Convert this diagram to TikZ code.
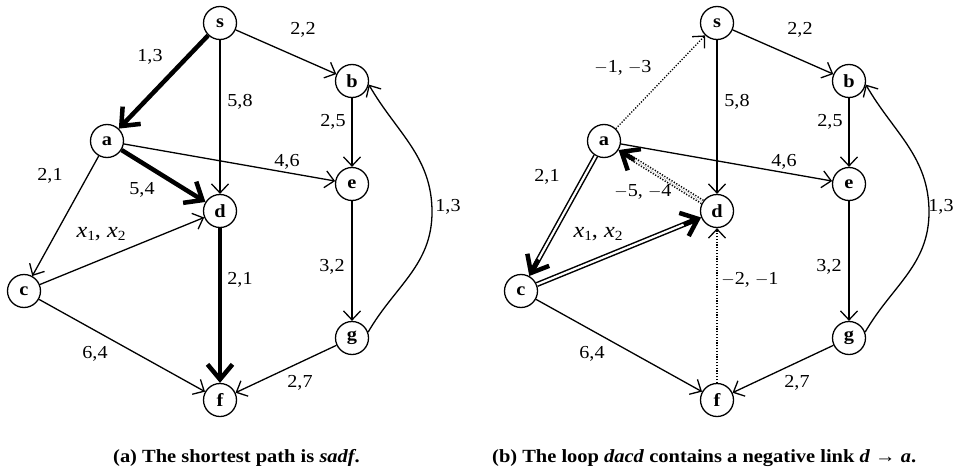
\documentclass[tikz,border=0pt]{standalone}
\usepackage{fontspec}
\setmainfont{Liberation Serif}[FakeStretch=1.1]
\usetikzlibrary{arrows.meta,calc}
\tikzset{
 vtx/.style={circle, draw, line width=1.3pt, minimum size=33pt, inner sep=0pt, fill=white, font=\fontsize{18.5}{18}\selectfont\bfseries},
 lbl/.style={inner sep=0pt, font=\fontsize{18.3}{20}\selectfont},
 xlbl/.style={inner sep=0pt, font=\fontsize{22}{24}\selectfont},
 captxt/.style={inner sep=0pt, anchor=base west, font=\fontsize{18.6}{20}\selectfont\bfseries},
 edge/.style={line width=1.3pt, -{Straight Barb[length=9pt,width=17pt]}},
 boldedge/.style={line width=4.5pt, -{Straight Barb[length=15pt,width=25pt]}},
 dotedge/.style={edge, dash pattern=on 1.2pt off 1.6pt},
 dblline/.style={double, line width=1.5pt, double distance=2.2pt, shorten >=5pt},
 boldtip/.style={line width=4.5pt, -{Straight Barb[length=15pt,width=25pt]}},
}
\newcommand{\xx}[1]{\textit{x}\raisebox{-0.35ex}{\fontsize{14}{14}\selectfont #1}}
\begin{document}
\begin{tikzpicture}[x=1pt,y=1pt]
\useasboundingbox (0,0) rectangle (955,475);
% ---------- (a) ----------
\node[vtx] (s) at (220,452) {s};
\node[vtx] (a) at (107,334) {a};
\node[vtx] (b) at (352,394) {b};
\node[vtx] (e) at (352,291) {e};
\node[vtx] (d) at (220,264) {d};
\node[vtx] (c) at (24,184) {c};
\node[vtx] (g) at (352,137) {g};
\node[vtx] (f) at (220,75) {f};
\coordinate (gbm) at (432,263);
\draw[boldedge] (s) -- (a);
\draw[edge] (s) -- (d);
\draw[edge] (s) -- (b);
\draw[boldedge] (a) -- (d);
\draw[edge] (a) -- (e);
\draw[edge] (a) -- (c);
\draw[edge] (c) -- (d);
\draw[boldedge] (d) -- (f);
\draw[edge] (b) -- (e);
\draw[edge] (e) -- (g);
\draw[edge] (g.20) to[out=60,in=-90] (gbm) to[out=90,in=-60] (b.-12);
\draw[edge] (g) -- (f);
\draw[edge] (c) -- (f);
\node[lbl] (l1) at (150,418) {1,3};
\node[lbl] (l2) at (303,445) {2,2};
\node[lbl] (l3) at (240,373) {5,8};
\node[lbl] (l4) at (287,313) {4,6};
\node[lbl] (l5) at (50,299) {2,1};
\node[lbl] (l6) at (142,285) {5,4};
\node[xlbl] (l7) at (101,241) {\xx{1}, \xx{2}};
\node[lbl] (l8) at (240,195) {2,1};
\node[lbl] (l9) at (95,121) {6,4};
\node[lbl] (l10) at (300,92) {2,7};
\node[lbl] (l11) at (333,353) {2,5};
\node[lbl] (l12) at (332,208) {3,2};
\node[lbl] (l13) at (448,268) {1,3};
\node[captxt] (capa) at (113,13) {(a) The shortest path is \textit{sadf}.};
% ---------- (b) ----------
\node[vtx] (s2) at (717,452) {s};
\node[vtx] (a2) at (604,334) {a};
\node[vtx] (b2) at (849,394) {b};
\node[vtx] (e2) at (849,291) {e};
\node[vtx] (d2) at (717,264) {d};
\node[vtx] (c2) at (521,184) {c};
\node[vtx] (g2) at (849,137) {g};
\node[vtx] (f2) at (717,75) {f};
\coordinate (gbm2) at (929,263);
\draw[dotedge] (a2) -- (s2);
\draw[edge] (s2) -- (d2);
\draw[edge] (s2) -- (b2);
\draw[edge] (a2) -- (e2);
\draw[dblline, dash pattern=on 1.2pt off 1.6pt] (d2) -- (a2);
\draw[boldtip] ($(a2)!36pt!(d2)$) -- (a2);
\draw[dblline] (a2) -- (c2);
\draw[boldtip] ($(c2)!36pt!(a2)$) -- (c2);
\draw[dblline] (c2) -- (d2);
\draw[boldtip] ($(d2)!36pt!(c2)$) -- (d2);
\draw[dotedge] (f2) -- (d2);
\draw[edge] (b2) -- (e2);
\draw[edge] (e2) -- (g2);
\draw[edge] (g2.20) to[out=60,in=-90] (gbm2) to[out=90,in=-60] (b2.-12);
\draw[edge] (g2) -- (f2);
\draw[edge] (c2) -- (f2);
\node[lbl] (m1) at (623,407) {$-$1, $-$3};
\node[lbl] (m2) at (800,445) {2,2};
\node[lbl] (m3) at (737,373) {5,8};
\node[lbl] (m4) at (784,313) {4,6};
\node[lbl] (m5) at (547,298) {2,1};
\node[lbl] (m6) at (643,283) {$-$5, $-$4};
\node[xlbl] (m7) at (598,241) {\xx{1}, \xx{2}};
\node[lbl] (m8) at (750,195) {$-$2, $-$1};
\node[lbl] (m9) at (592,121) {6,4};
\node[lbl] (m10) at (797,92) {2,7};
\node[lbl] (m11) at (830,353) {2,5};
\node[lbl] (m12) at (829,208) {3,2};
\node[lbl] (m13) at (941,268) {1,3};
\node[captxt] (capb) at (492,13) {(b) The loop \textit{dacd} contains a negative link \textit{d} → \textit{a}.};
\end{tikzpicture}
\end{document}
